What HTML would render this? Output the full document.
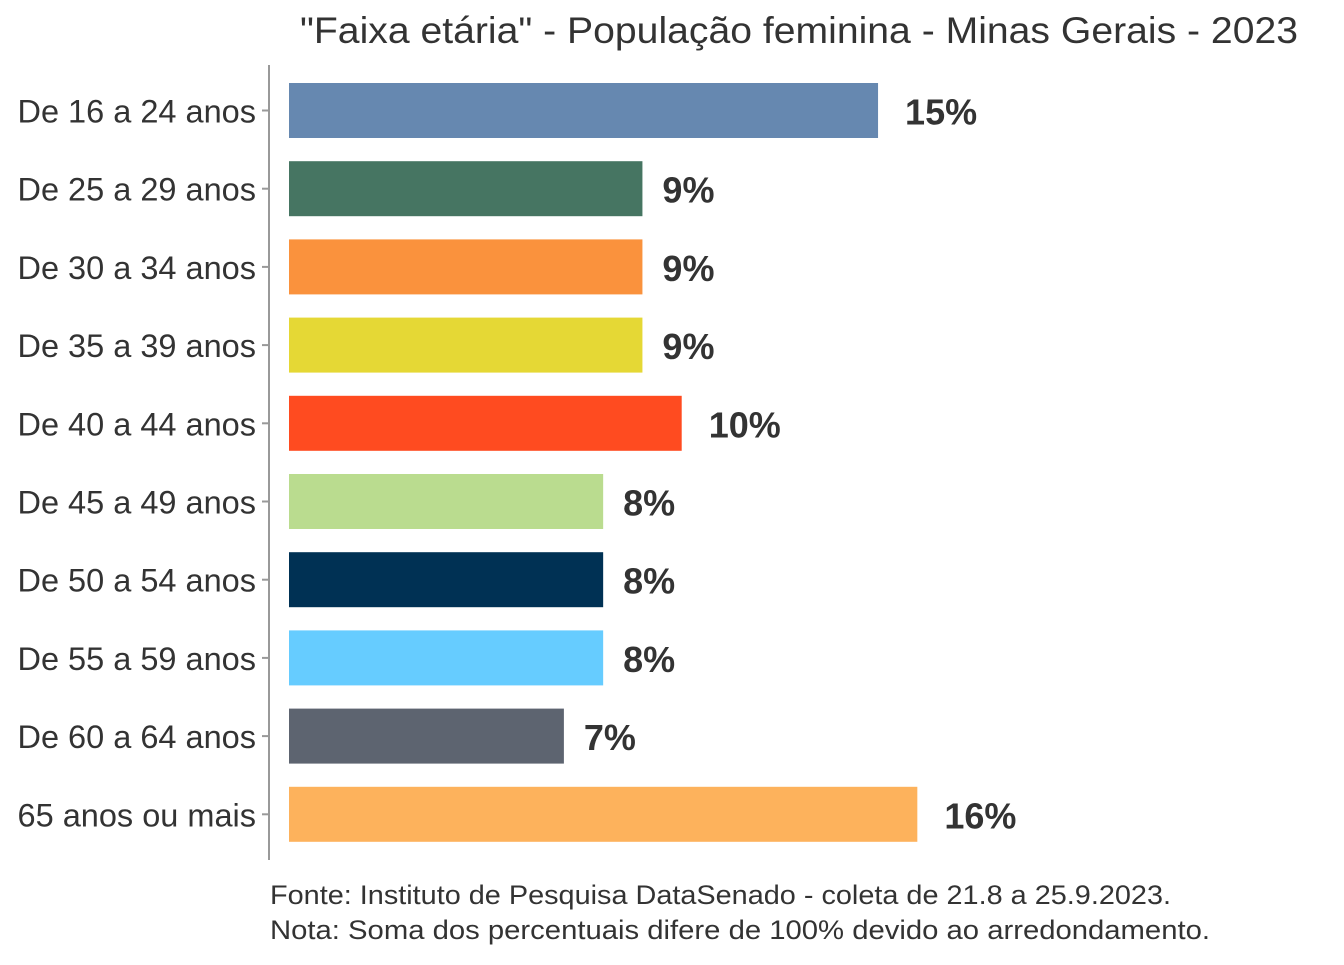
<!DOCTYPE html>
<html><head><meta charset="utf-8"><style>
body{margin:0;background:#fff;width:1344px;height:960px;overflow:hidden}
svg text{font-family:"Liberation Sans","DejaVu Sans",sans-serif}
</style></head><body>
<svg id="chart" width="1344" height="960">
<text x="300" y="43" textLength="998" lengthAdjust="spacingAndGlyphs" font-size="37" fill="#333">"Faixa etária" - População feminina - Minas Gerais - 2023</text>
<line x1="269" y1="65" x2="269" y2="860" stroke="#999" stroke-width="2"/>
<g id="bars"></g>
<text x="270" y="904" textLength="901" lengthAdjust="spacingAndGlyphs" font-size="27" fill="#333">Fonte: Instituto de Pesquisa DataSenado - coleta de 21.8 a 25.9.2023.</text>
<text x="270" y="939" textLength="940" lengthAdjust="spacingAndGlyphs" font-size="27" fill="#333">Nota: Soma dos percentuais difere de 100% devido ao arredondamento.</text>
</svg>
<script>
const categories=["De 16 a 24 anos","De 25 a 29 anos","De 30 a 34 anos","De 35 a 39 anos","De 40 a 44 anos","De 45 a 49 anos","De 50 a 54 anos","De 55 a 59 anos","De 60 a 64 anos","65 anos ou mais"];
const values=[15,9,9,9,10,8,8,8,7,16];
const colors=["#6688b0","#467562","#fa923d","#e5d835","#ff4b20","#badc8f","#003154","#66ccff","#5d6470","#fdb25c"];
const ns="http://www.w3.org/2000/svg";
const g=document.getElementById('bars');
const x0=289, pxPer=39.27, yTop=110.5, step=78.2, bh=55;
const xs=v=>x0+v*pxPer, yc=i=>yTop+i*step;
categories.forEach((c,i)=>{
  const y=yc(i);
  const r=document.createElementNS(ns,'rect');
  r.setAttribute('x',x0);r.setAttribute('y',y-bh/2);r.setAttribute('width',xs(values[i])-x0);r.setAttribute('height',bh);r.setAttribute('fill',colors[i]);
  
  
  g.appendChild(r);
  const t=document.createElementNS(ns,'line');
  t.setAttribute('x1',262);t.setAttribute('x2',269);t.setAttribute('y1',y);t.setAttribute('y2',y);t.setAttribute('stroke','#999');t.setAttribute('stroke-width',2);
  
  
  g.appendChild(t);
  const l=document.createElementNS(ns,'text');
  l.setAttribute('x',256);l.setAttribute('y',y+12);l.setAttribute('text-anchor','end');l.setAttribute('font-size',32.5);l.setAttribute('fill','#333');
  l.textContent=c;
  
  
  g.appendChild(l);
  const txt=values[i]+'%';
  const v=document.createElementNS(ns,'text');
  v.setAttribute('x',xs(values[i])+(txt.length>2?27:20));v.setAttribute('y',y+14);v.setAttribute('font-size',36);v.setAttribute('font-weight','bold');v.setAttribute('fill','#333');
  v.textContent=txt;
  
  
  g.appendChild(v);
});
</script>
</body></html>
